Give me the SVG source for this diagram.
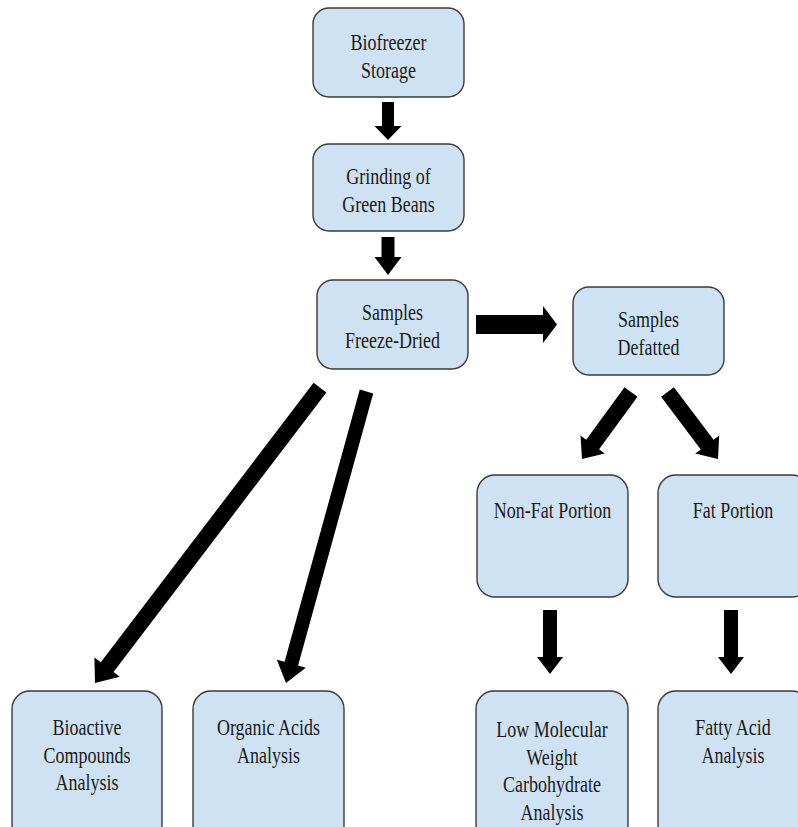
<svg xmlns="http://www.w3.org/2000/svg" width="798" height="827" viewBox="0 0 798 827">
<style>
.box{fill:#cfe2f3;stroke:#3a3a3a;stroke-width:1.4}
.t{font-family:"Liberation Serif","Times New Roman",serif;font-size:18px;fill:#1a1a1a;text-anchor:middle}
.arr{fill:#000}
</style>
<rect width="798" height="827" fill="#ffffff"/>
<g id="connectors">
<polygon class="arr" points="382,102 394,102 394,126 401.5,126 388,140 374.5,126 382,126"/>
<polygon class="arr" points="381.5,237 394.5,237 394.5,257 401.5,257 388,275 374.5,257 381.5,257"/>
<polygon class="arr" points="476,315 543,315 543,306 557,324.5 543,343 543,334 476,334"/>
<polygon class="arr" points="624.5,387.3 586.2,439.8 580.5,435.6 582,459 604.7,453.4 599.1,449.2 637.5,396.7"/>
<polygon class="arr" points="661.1,396.8 700.8,449.4 695.2,453.6 718,459 719.2,435.6 713.6,439.8 673.9,387.2"/>
<polygon class="arr" points="313.6,382.7 100.8,662.3 94.4,657.4 95,683 119.8,676.8 113.5,672 326.4,392.4"/>
<polygon class="arr" points="359.8,389.6 284.6,661.8 276.8,659.7 286,683 305.8,667.7 298.1,665.6 373.2,393.4"/>
<polygon class="arr" points="543,610 557,610 557,657 563,657 550,674 537,657 543,657"/>
<polygon class="arr" points="724,610 738,610 738,657 744,657 731,674 718,657 724,657"/>
</g>
<g id="biofreezer">
<rect class="box" x="313" y="8" width="151" height="89" rx="16"/>
<text class="t" transform="matrix(1 0 0 1.32 388.5 50)">Biofreezer</text>
<text class="t" transform="matrix(1 0 0 1.32 388.5 77.5)">Storage</text>
</g>
<g id="grinding">
<rect class="box" x="313" y="144" width="151" height="87" rx="16"/>
<text class="t" transform="matrix(1 0 0 1.32 388.5 184)">Grinding of</text>
<text class="t" transform="matrix(1 0 0 1.32 388.5 212)">Green Beans</text>
</g>
<g id="freeze-dried">
<rect class="box" x="317" y="280" width="151" height="89" rx="16"/>
<text class="t" transform="matrix(1 0 0 1.32 392.5 320)">Samples</text>
<text class="t" transform="matrix(1 0 0 1.32 392.5 348)">Freeze-Dried</text>
</g>
<g id="defatted">
<rect class="box" x="573" y="287" width="151" height="88" rx="16"/>
<text class="t" transform="matrix(1 0 0 1.32 648.5 327)">Samples</text>
<text class="t" transform="matrix(1 0 0 1.32 648.5 355)">Defatted</text>
</g>
<g id="non-fat">
<rect class="box" x="477" y="475" width="151" height="122" rx="18"/>
<text class="t" transform="matrix(1 0 0 1.32 552.5 518)">Non-Fat Portion</text>
</g>
<g id="fat">
<rect class="box" x="658" y="475" width="152" height="122" rx="18"/>
<text class="t" transform="matrix(1 0 0 1.32 733 518)">Fat Portion</text>
</g>
<g id="bioactive">
<rect class="box" x="12" y="691" width="150" height="152" rx="18"/>
<text class="t" transform="matrix(1 0 0 1.32 87 735)">Bioactive</text>
<text class="t" transform="matrix(1 0 0 1.32 87 762.5)">Compounds</text>
<text class="t" transform="matrix(1 0 0 1.32 87 790)">Analysis</text>
</g>
<g id="organic">
<rect class="box" x="193" y="691" width="151" height="152" rx="18"/>
<text class="t" transform="matrix(1 0 0 1.32 268.5 735)">Organic Acids</text>
<text class="t" transform="matrix(1 0 0 1.32 268.5 762.5)">Analysis</text>
</g>
<g id="low-molecular">
<rect class="box" x="476" y="691" width="152" height="152" rx="18"/>
<text class="t" transform="matrix(1 0 0 1.32 552 737)">Low Molecular</text>
<text class="t" transform="matrix(1 0 0 1.32 552 764.5)">Weight</text>
<text class="t" transform="matrix(1 0 0 1.32 552 792)">Carbohydrate</text>
<text class="t" transform="matrix(1 0 0 1.32 552 819.5)">Analysis</text>
</g>
<g id="fatty-acid">
<rect class="box" x="658" y="691" width="152" height="152" rx="18"/>
<text class="t" transform="matrix(1 0 0 1.32 733 735)">Fatty Acid</text>
<text class="t" transform="matrix(1 0 0 1.32 733 762.5)">Analysis</text>
</g>
</svg>
